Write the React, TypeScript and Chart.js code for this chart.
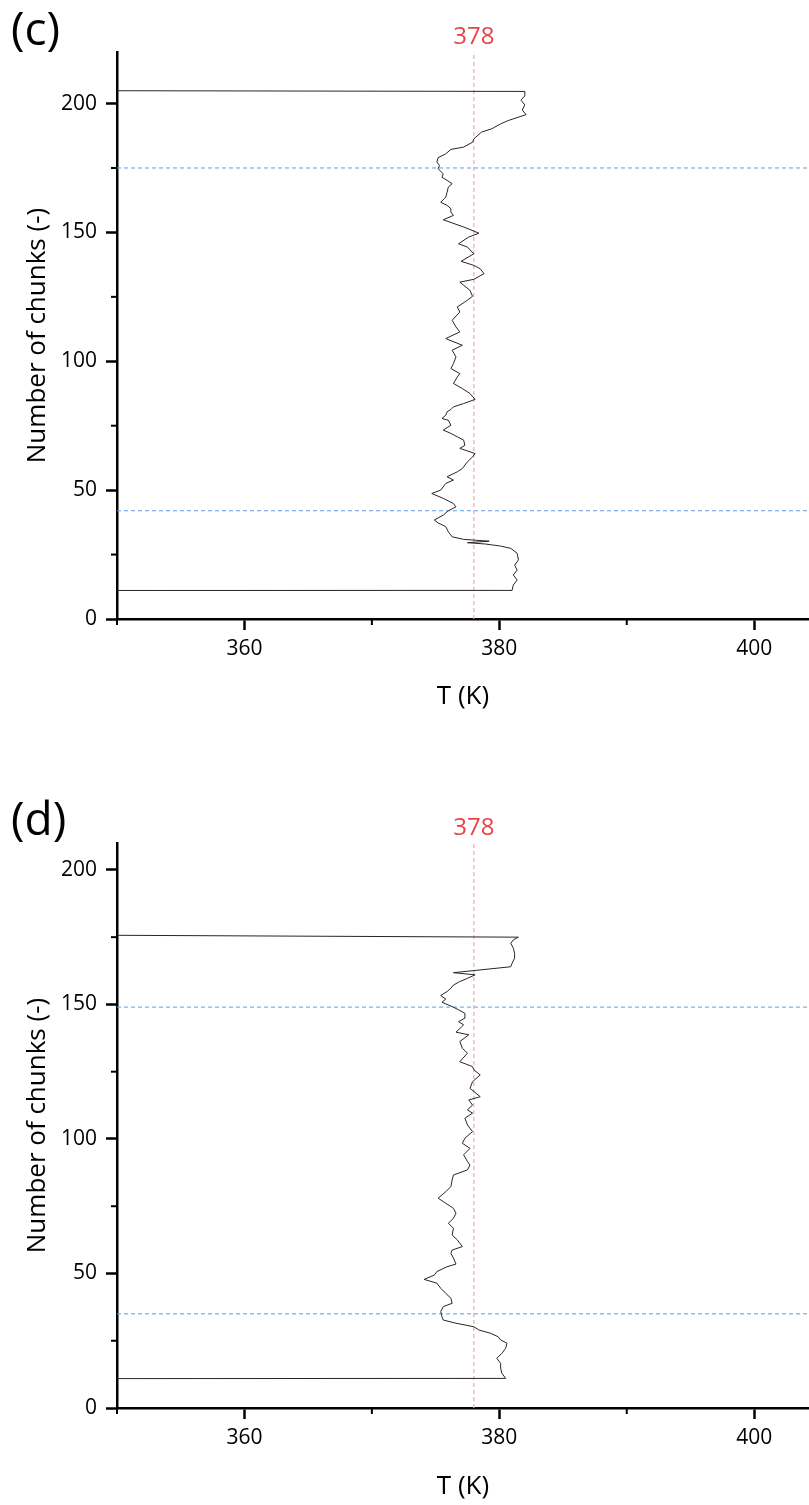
import React, { useEffect, useRef } from 'react';
import { Chart, registerables } from 'chart.js';

Chart.register(...registerables);

// ---------- data ----------
// Panel (c): temperature profile T (K) vs chunk index
const T_C = [
  300, 381.0, 381.1, 381.4, 381.1, 381.4, 381.2, 381.5, 381.4, 380.9, 380.1,
  378.9, 377.5, 379.2, 377.2, 376.3, 376.0, 375.8, 375.2, 374.9, 375.6,
  376.0, 376.6, 376.4, 375.6, 374.7, 375.4, 375.8, 376.4, 375.9, 376.7,
  377.1, 377.5, 377.9, 378.1, 376.9, 377.3, 377.2, 376.7, 376.2, 375.6,
  376.2, 376.0, 375.5, 375.8, 375.9, 376.2, 376.4, 377.2, 378.1, 377.7,
  377.1, 376.4, 376.7, 376.9, 376.2, 376.4, 376.6, 376.3, 377.1, 375.8,
  376.9, 376.6, 376.3, 376.9, 376.7, 377.3, 377.9, 377.7, 377.2, 376.9,
  378.0, 378.8, 378.5, 378.0, 377.0, 378.0, 377.5, 376.8, 377.6, 378.4,
  377.2, 375.6, 376.4, 376.2, 376.2, 375.9, 375.4, 375.8, 375.9, 376.0,
  376.3, 375.9, 375.5, 375.6, 375.2, 375.3, 375.1, 375.2, 375.8, 376.2,
  377.2, 377.9, 378.0, 378.6, 379.4, 380.1, 380.7, 382.1, 381.8, 382.0,
  381.7, 382.0, 382.0, 300,
];
const CHUNK_C = [
  11.0, 11.1, 13.2, 15.1, 17.1, 19.0, 20.9, 22.9, 25.5, 27.4, 28.3,
  29.1, 29.6, 30.2, 30.9, 31.9, 33.8, 35.8, 37.3, 38.4, 40.3,
  42.0, 43.5, 44.8, 46.8, 48.7, 50.0, 52.6, 53.9, 55.2, 57.1,
  58.4, 61.0, 62.9, 64.2, 66.2, 67.4, 69.4, 70.7, 72.0, 73.3,
  75.2, 77.1, 77.8, 79.1, 80.4, 81.3, 82.3, 83.6, 85.2, 87.5,
  89.4, 91.4, 93.9, 95.2, 97.2, 99.1, 101.7, 104.3, 106.2, 108.8,
  111.4, 113.3, 115.9, 119.1, 121.1, 123.0, 125.2, 127.5, 129.5, 130.7,
  131.8, 134.0, 135.9, 137.2, 138.8, 141.7, 144.3, 145.6, 148.2, 149.7,
  152.1, 154.9, 156.6, 157.9, 159.2, 160.5, 161.7, 163.7, 165.6, 167.6,
  168.9, 170.2, 171.4, 172.7, 174.7, 176.0, 177.3, 179.0, 180.5, 182.2,
  183.1, 185.0, 186.3, 188.9, 190.2, 192.1, 193.4, 195.7, 197.5, 199.5,
  201.3, 203.0, 204.7, 205.4,
];

// Panel (d)
const T_D = [
  300, 380.5, 380.2, 380.1, 380.1, 379.8, 380.2, 380.5, 380.6, 380.1, 379.9,
  379.3, 378.4, 378.0, 376.6, 375.6, 375.5, 375.4, 375.6, 376.3, 376.2,
  375.8, 375.4, 375.1, 374.1, 374.9, 375.1, 375.9, 376.6, 376.4, 376.2,
  376.3, 377.1, 376.7, 376.3, 376.4, 376.0, 376.4, 376.6, 376.4, 375.8,
  375.2, 375.8, 376.2, 376.3, 376.4, 377.5, 377.7, 377.5, 377.2, 377.7,
  377.1, 377.3, 377.9, 377.5, 377.3, 377.9, 377.5, 377.9, 377.6, 378.5,
  377.7, 377.9, 378.5, 378.0, 377.9, 376.9, 377.5, 377.1, 376.9, 377.6,
  376.6, 377.2, 376.8, 377.3, 377.3, 376.8, 376.3, 375.5, 375.8, 375.4,
  375.9, 376.2, 376.4, 376.9, 377.5, 378.1, 376.4, 380.9, 381.0, 381.2,
  381.2, 381.1, 380.9, 381.1, 381.5, 300,
];
const CHUNK_D = [
  10.8, 11.0, 12.9, 14.8, 16.6, 18.5, 20.3, 22.2, 24.1, 25.3, 26.5,
  27.8, 29.0, 30.2, 31.5, 32.7, 33.9, 35.8, 37.7, 38.9, 40.8,
  42.6, 44.5, 46.4, 47.8, 49.4, 50.7, 52.5, 53.5, 55.7, 57.5,
  58.7, 60.0, 62.5, 64.3, 66.8, 68.7, 70.5, 72.4, 74.2, 76.1,
  78.0, 80.4, 82.3, 84.8, 86.6, 88.5, 90.3, 91.6, 94.1, 96.5,
  98.4, 100.3, 102.7, 105.2, 107.7, 109.6, 110.8, 112.6, 114.5, 115.7,
  118.8, 121.3, 123.8, 125.7, 126.9, 128.7, 131.9, 133.7, 136.2, 138.7,
  139.7, 142.4, 143.6, 144.9, 146.7, 148.0, 149.2, 150.8, 152.0, 153.3,
  154.8, 156.0, 157.2, 158.5, 159.7, 161.0, 161.8, 164.0, 165.3, 167.2,
  169.0, 170.9, 172.7, 174.0, 175.0, 176.8,
];

const X_MIN = 350;
const X_MAX = 404.3;
const X_MAJOR = [360, 380, 400];
const X_MINOR = [350, 370, 390];
const Y_MAJOR = [0, 50, 100, 150, 200];
const Y_MINOR = [25, 75, 125, 175];
const REF_T = 378;
const BOUNDS_C = [42, 175];
const BOUNDS_D = [35, 149];
const Y_MAX_C = 220;
const Y_MAX_D = 210;

const FONT = '"Open Sans", "Noto Sans", sans-serif';

type PanelProps = {
  label: string;
  temps: number[];
  chunks: number[];
  bounds: number[];
  yMax: number;
  top: number;
  height: number;
  padTop: number;
  plotBottom: number;
  titlePadBottom: number;
  labelBaseline: number;
  refBaseline: number;
};

function Panel(p: PanelProps) {
  const ref = useRef<HTMLCanvasElement | null>(null);

  useEffect(() => {
    const canvas = ref.current;
    if (!canvas) return;

    const profile = p.temps.map((t, i) => ({ x: t, y: p.chunks[i] }));
    const boundSets = p.bounds.map((b) => ({
      data: [
        { x: X_MIN, y: b },
        { x: X_MAX, y: b },
      ],
      showLine: true,
      borderColor: '#5c9ded',
      borderWidth: 1,
      borderDash: [4, 3],
      pointRadius: 0,
    }));

    const extras = {
      id: 'extras',
      afterDraw(chart: any) {
        const { ctx, chartArea, scales } = chart;
        const xs = scales.x;
        const ys = scales.y;
        ctx.save();
        ctx.strokeStyle = '#000';
        ctx.lineWidth = 2;
        X_MINOR.forEach((v) => {
          const px = xs.getPixelForValue(v);
          ctx.beginPath();
          ctx.moveTo(px, chartArea.bottom);
          ctx.lineTo(px, chartArea.bottom + 6);
          ctx.stroke();
        });
        Y_MINOR.forEach((v) => {
          const py = ys.getPixelForValue(v);
          ctx.beginPath();
          ctx.moveTo(chartArea.left, py);
          ctx.lineTo(chartArea.left - 6, py);
          ctx.stroke();
        });
        ctx.fillStyle = '#000';
        ctx.font = `46px ${FONT}`;
        ctx.textAlign = 'left';
        ctx.textBaseline = 'alphabetic';
        ctx.fillText(p.label, 11, p.labelBaseline);
        ctx.fillStyle = '#e8434b';
        ctx.font = `24px ${FONT}`;
        ctx.textAlign = 'center';
        ctx.fillText(String(REF_T), xs.getPixelForValue(REF_T), p.refBaseline);
        ctx.restore();
      },
    };

    const chart = new Chart(canvas, {
      type: 'scatter',
      data: {
        datasets: [
          {
            data: profile,
            showLine: true,
            borderColor: '#262626',
            borderWidth: 1,
            pointRadius: 0,
          },
          {
            data: [
              { x: REF_T, y: 0 },
              { x: REF_T, y: p.yMax },
            ],
            showLine: true,
            borderColor: '#f4a6ab',
            borderWidth: 1.2,
            borderDash: [4, 3],
            pointRadius: 0,
          },
          ...boundSets,
        ] as any,
      },
      options: {
        animation: false,
        responsive: false,
        devicePixelRatio: 1,
        layout: { padding: { top: p.padTop, left: 0, right: 0, bottom: 0 } },
        plugins: { legend: { display: false }, tooltip: { enabled: false } },
        scales: {
          x: {
            type: 'linear',
            min: X_MIN,
            max: X_MAX,
            afterBuildTicks: (s: any) => {
              s.ticks = X_MAJOR.map((v) => ({ value: v }));
            },
            afterFit: (s: any) => {
              s.height = p.height - p.plotBottom;
            },
            grid: {
              display: true,
              drawOnChartArea: false,
              drawTicks: true,
              tickLength: 11,
              tickWidth: 2.5,
              tickColor: '#000',
            },
            border: { display: true, color: '#000', width: 2.5 },
            ticks: {
              color: '#000',
              padding: 6,
              maxRotation: 0,
              font: { family: FONT, size: 21 },
            },
            title: {
              display: true,
              text: 'T (K)',
              color: '#000',
              font: { family: FONT, size: 26 },
              padding: { top: 0, bottom: p.titlePadBottom },
            },
          },
          y: {
            type: 'linear',
            min: 0,
            max: p.yMax,
            afterBuildTicks: (s: any) => {
              s.ticks = Y_MAJOR.map((v) => ({ value: v }));
            },
            afterFit: (s: any) => {
              s.width = 117;
            },
            grid: {
              display: true,
              drawOnChartArea: false,
              drawTicks: true,
              tickLength: 11,
              tickWidth: 2.5,
              tickColor: '#000',
            },
            border: { display: true, color: '#000', width: 2.5 },
            ticks: {
              color: '#000',
              padding: 9,
              font: { family: FONT, size: 21 },
            },
            title: {
              display: true,
              text: 'Number of chunks (-)',
              color: '#000',
              font: { family: FONT, size: 26 },
              padding: { top: 22, bottom: 0 },
            },
          },
        },
      },
      plugins: [extras],
    });

    return () => chart.destroy();
  }, []);

  return (
    <canvas
      ref={ref}
      width={809}
      height={p.height}
      style={{ position: 'absolute', left: 0, top: p.top, width: 809, height: p.height, display: 'block' }}
    />
  );
}

export default function App() {
  return (
    <div style={{ position: 'absolute', left: 0, top: 0, width: 809, height: 1505, background: '#fff', overflow: 'hidden' }}>
      <Panel
        label="(c)"
        temps={T_C}
        chunks={CHUNK_C}
        bounds={BOUNDS_C}
        yMax={Y_MAX_C}
        top={0}
        height={720}
        padTop={52}
        plotBottom={619}
        titlePadBottom={7.4}
        labelBaseline={45}
        refBaseline={44}
      />
      <Panel
        label="(d)"
        temps={T_D}
        chunks={CHUNK_D}
        bounds={BOUNDS_D}
        yMax={Y_MAX_D}
        top={788}
        height={717}
        padTop={55}
        plotBottom={620}
        titlePadBottom={2.4}
        labelBaseline={47}
        refBaseline={47}
      />
    </div>
  );
}
